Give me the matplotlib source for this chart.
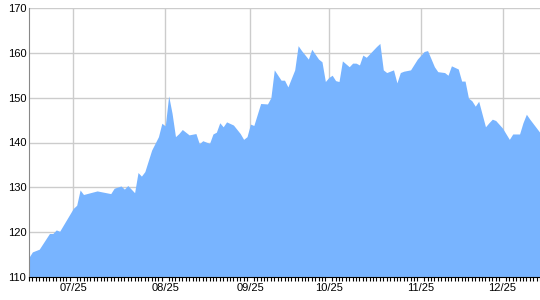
import numpy as np
import matplotlib
matplotlib.use("Agg")
import matplotlib.pyplot as plt

plt.rcParams['font.family'] = ['Liberation Sans', 'DejaVu Sans']

# data (x = point index along the axis)
day_idx = [0, 1, 3, 6, 7, 8, 9, 13, 14, 15, 16, 20, 24, 25, 27, 28, 29, 31, 32,
           33, 34, 36, 38, 39, 40, 41, 42, 43, 44, 45, 47, 49, 50, 51, 53, 54,
           55, 56, 57, 58, 60, 62, 63, 64, 65, 66, 68, 70, 71, 72, 74, 75, 76,
           78, 79, 80, 82, 83, 85, 86, 87, 88, 89, 90, 91, 92, 94, 95, 96, 97,
           98, 99, 102, 103, 104, 105, 107, 108, 109, 110, 112, 114, 116, 117,
           119, 120, 122, 123, 124, 126, 127, 128, 129, 130, 131, 132, 134,
           135, 136, 137, 139, 141, 142, 144, 145, 146, 147, 149, 150]
price = [114.4, 115.6, 116.2, 119.7, 119.7, 120.5, 120.2, 125.3, 126.0, 129.4,
         128.4, 129.2, 128.6, 129.8, 130.3, 129.6, 130.4, 128.8, 133.3, 132.5,
         133.5, 138.3, 141.3, 144.3, 143.7, 150.4, 146.5, 141.3, 142.0, 142.9,
         141.7, 142.0, 139.7, 140.4, 139.8, 141.9, 142.3, 144.4, 143.5, 144.6,
         143.9, 142.0, 140.7, 141.3, 144.1, 143.8, 148.7, 148.6, 150.0, 156.2,
         153.9, 153.9, 152.4, 156.2, 161.6, 160.5, 158.6, 160.8, 158.6, 158.0,
         153.6, 154.5, 155.0, 153.8, 153.6, 158.2, 156.9, 157.7, 157.7, 157.3,
         159.5, 159.0, 161.4, 162.1, 156.2, 155.6, 156.2, 153.3, 155.6, 155.9,
         156.2, 158.6, 160.3, 160.5, 156.9, 155.8, 155.6, 155.0, 157.1, 156.4,
         153.7, 153.7, 149.9, 149.3, 148.1, 149.2, 143.5, 144.4, 145.2, 144.9,
         143.2, 140.7, 141.9, 141.9, 144.4, 146.3, 145.2, 143.2, 142.2]

label_idx = [13, 40, 65, 88, 115, 139]
labels = ["07/25", "08/25", "09/25", "10/25", "11/25", "12/25"]
y_ticks = [110, 120, 130, 140, 150, 160, 170]

fig = plt.figure(figsize=(5.4, 3.0), dpi=100)
ax = fig.add_axes([29 / 540, 23 / 300, 511 / 540, 269 / 300])

ax.fill_between(day_idx, price, 110, color="#78b4ff", linewidth=0, zorder=2)

ax.set_xlim(0, 150)
ax.set_ylim(110, 170)
ax.set_yticks(y_ticks)
ax.set_xticks(label_idx)
ax.set_xticklabels(labels)
ax.set_xticks(np.arange(0, 151), minor=True)

ax.grid(True, color="#cccccc", linewidth=1, zorder=0)
ax.set_axisbelow(True)

for s in ["top", "right"]:
    ax.spines[s].set_visible(False)
ax.spines["left"].set_color("#888888")
ax.spines["bottom"].set_color("#000000")

ax.tick_params(axis="y", length=0, labelsize=8, pad=2)
ax.tick_params(axis="x", which="major", length=0, labelsize=8, pad=4)
ax.tick_params(axis="x", which="minor", length=3, width=0.8, color="#000000")

fig.savefig("out.png", dpi=100)
